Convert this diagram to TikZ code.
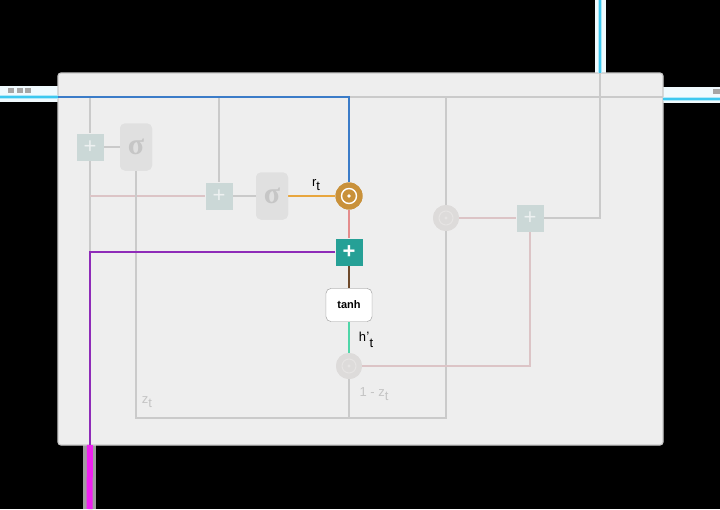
\documentclass[tikz,border=0pt]{standalone}
\usepackage{fontspec}
\setsansfont{Liberation Sans}
\newfontfamily\sigfont{Liberation Serif}
\usetikzlibrary{calc}
\definecolor{panel}{HTML}{EEEEEE}
\definecolor{pborder}{HTML}{C9C9C9}
\definecolor{gline}{HTML}{CACACA}
\definecolor{pline}{HTML}{DCC4C6}
\definecolor{bline}{HTML}{3B7CC8}
\definecolor{oline}{HTML}{E8A63E}
\definecolor{rline}{HTML}{E48C8C}
\definecolor{tealbox}{HTML}{26A096}
\definecolor{purp}{HTML}{8E2BB8}
\definecolor{brownl}{HTML}{6E4A2C}
\definecolor{mint}{HTML}{4FD6A8}
\definecolor{gold}{HTML}{C9913A}
\definecolor{fadeplus}{HTML}{CBD8D7}
\definecolor{fadesig}{HTML}{E0E0E0}
\definecolor{sigtext}{HTML}{C6C6C6}
\definecolor{fadecirc}{HTML}{DDDBDA}
\definecolor{fadering}{HTML}{E6E4E3}
\definecolor{fadetext}{HTML}{C4C4C4}
\definecolor{cyanl}{HTML}{3CC8F0}
\definecolor{magl}{HTML}{F020F0}
\tikzset{
  gl/.style={draw=gline,line width=1.4pt},
  pl/.style={draw=pline,line width=1.4pt},
  plusbox/.style={draw=none,fill=fadeplus,minimum size=27pt,inner sep=0pt,text=white!65!fadeplus,font=\sffamily\fontsize{22}{22}\selectfont},
  tealplus/.style={draw=none,fill=tealbox,minimum size=27pt,inner sep=0pt,text=white,font=\sffamily\bfseries\fontsize{22}{22}\selectfont},
  sigbox/.style={draw=none,fill=fadesig,rounded corners=5pt,minimum width=32pt,minimum height=47pt,inner sep=0pt,text=sigtext,font=\sigfont\bfseries\fontsize{30}{30}\selectfont},
  fcirc/.style={circle,fill=fadecirc,draw=none,minimum size=26pt,inner sep=0pt},
  tanhbox/.style={draw=gray!70,fill=white,rounded corners=5pt,minimum width=46pt,minimum height=33pt,inner sep=0pt,font=\sffamily\bfseries\fontsize{11}{11}\selectfont},
  lab/.style={font=\sffamily\fontsize{13}{13}\selectfont,inner sep=0pt},
  flab/.style={font=\sffamily\fontsize{13}{13}\selectfont,inner sep=0pt,text=fadetext},
}
\begin{document}
\begin{tikzpicture}[x=1pt,y=-1pt]
\fill[black] (0,0) rectangle (720,509);
\useasboundingbox (0,0) rectangle (720,509);
% outside bands
\fill[white!94!cyan] (0,86) rectangle (58,102);
\fill[gray!70] (8,88) rectangle (14,93);
\fill[gray!70] (17,88) rectangle (23,93);
\fill[gray!70] (25,88) rectangle (31,93);
\fill[white!94!cyan] (663,87) rectangle (720,103);
\fill[gray!70] (713,89) rectangle (720,94);
\fill[white!94!cyan] (595,0) rectangle (606,73);
\fill[gray!75] (83,445) rectangle (96,509);
% panel
\draw[fill=panel,draw=pborder,line width=1.2pt,rounded corners=3pt] (58,73) rectangle (663,445);
% nodes
\node[plusbox] (p1) at (90,147) {+};
\node[sigbox] (s1) at (136,147) {σ};
\node[plusbox] (p2) at (219,196) {+};
\node[sigbox] (s2) at (272,196) {σ};
\node[circle,fill=gold,minimum size=27pt,inner sep=0pt] (m1) at (349,196) {};
\node[tealplus] (p3) at (349,252) {+};
\node[tanhbox] (th) at (349,305) {tanh};
\node[fcirc] (m2) at (349,366) {};
\node[fcirc] (m3) at (446,218) {};
\node[plusbox] (p4) at (530,218) {+};
% coordinates
\coordinate (tl) at (58,97);
\coordinate (tr) at (663,97);
\coordinate (tb) at (349,97);
\coordinate (x90t) at (90,97);
\coordinate (x90m) at (90,196);
\coordinate (x90p) at (90,252);
\coordinate (x90b) at (90,445);
\coordinate (x219t) at (219,97);
\coordinate (x446t) at (446,97);
\coordinate (x446b) at (446,418);
\coordinate (x136b) at (136,418);
\coordinate (x350b) at (349,418);
\coordinate (x530b) at (530,366);
\coordinate (x600m) at (600,218);
\coordinate (x600t) at (600,97);
\coordinate (x600e) at (600,73);
% gray connectors
\draw[gl] (tb) -- (tr);
\draw[gl] (x90t) -- (p1);
\draw[gl] (p1) -- (x90m) -- (x90p);
\draw[pl] (x90m) -- (p2);
\draw[gl] (x219t) -- (p2);
\draw[gl] (p1) -- (s1);
\draw[gl] (p2) -- (s2);
\draw[gl] (s1.south -| x136b) -- (x136b) -- (x446b) -- (m3);
\draw[gl] (m3) -- (x446t);
\draw[gl] (m2) -- (x350b);
\draw[pl] (m3) -- (p4);
\draw[pl] (m2) -- (x530b) -- (p4);
\draw[gl] (p4) -- (x600m) -- (x600t) -- (x600e);
% highlighted path
\draw[bline,line width=1.5pt] (tl) -- (tb) -- (m1);
\draw[oline,line width=1.6pt] (s2) -- (m1);
\draw[rline,line width=1.5pt] (m1) -- (p3);
\draw[purp,line width=1.5pt] (p3) -- (x90p) -- (x90b);
\draw[brownl,line width=1.5pt] (p3) -- (th);
\draw[mint,line width=1.5pt] (th) -- (m2);
% outside lines
\draw[cyanl!40,line width=4pt] (0,97) -- (tl);
\draw[cyanl,line width=1.6pt] (0,97) -- (tl);
\draw[cyanl!40,line width=4pt] (663,99) -- (720,99);
\draw[cyanl,line width=1.6pt] (663,99) -- (720,99);
\draw[cyanl!40,line width=4pt] (x600e) -- (600,0);
\draw[cyanl,line width=1.6pt] (x600e) -- (600,0);
\draw[magl,line width=6pt] (x90b) -- (89.5,509);
% redraw nodes on top
\node[plusbox] at (p1) {+};
\node[sigbox] at (s1) {σ};
\node[plusbox] at (p2) {+};
\node[sigbox] at (s2) {σ};
\node[tealplus] at (p3) {+};
\node[tanhbox] at (th) {tanh};
\node[plusbox] at (p4) {+};
\node[circle,fill=gold,minimum size=27pt,inner sep=0pt] at (m1) {};
\draw[white,line width=1.4pt] (m1.center) circle (7.5pt);
\fill[white] (m1.center) circle (1.8pt);
\node[fcirc] at (m2) {};
\draw[fadering,line width=1pt] (m2.center) circle (7pt);
\fill[fadering] (m2.center) circle (1.6pt);
\node[fcirc] at (m3) {};
\draw[fadering,line width=1pt] (m3.center) circle (7pt);
\fill[fadering] (m3.center) circle (1.6pt);
% labels
\node[lab] (rt) at (316,185) {r\raisebox{-4pt}{t}};
\node[lab] (ht) at (366,340) {h\raisebox{8pt}{,}\raisebox{-6pt}{t}};
\node[flab] (omz) at (374,394) {1 - z\raisebox{-4pt}{t}};
\node[flab] (zt) at (147,402) {z\raisebox{-4pt}{t}};
\end{tikzpicture}
\end{document}
